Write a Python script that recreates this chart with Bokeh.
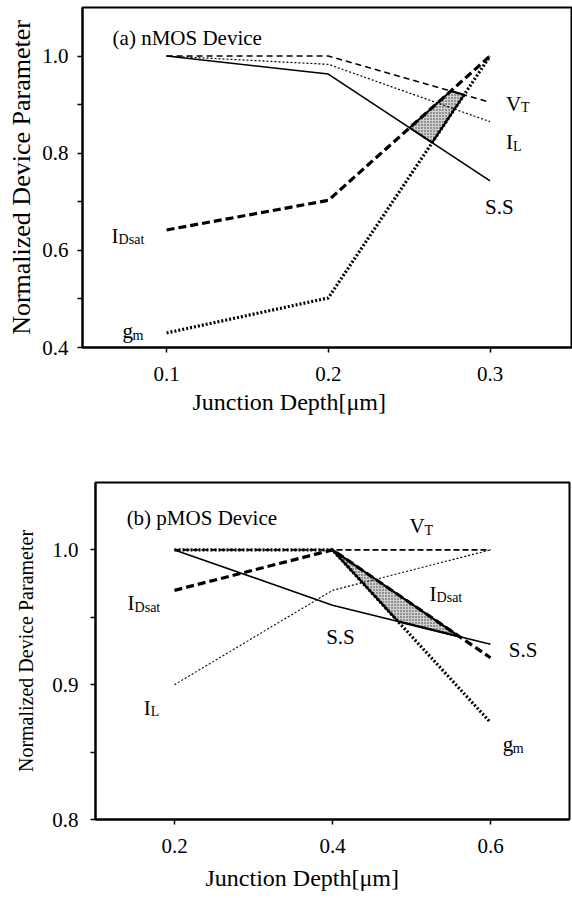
from bokeh.plotting import figure
from bokeh.models import Label, FixedTicker, Range1d, PrintfTickFormatter, Title, Spacer
from bokeh.layouts import column, row
from bokeh.embed import file_html
from bokeh.resources import INLINE

FONT = "Liberation Serif"

# ---------------- data: panel (a) nMOS ----------------
x_a = [0.1, 0.2, 0.3]
vt_a = [1.0, 1.0, 0.905]
il_a = [1.0, 0.983, 0.865]
ss_a = [1.0, 0.963, 0.743]
idsat_a = [0.642, 0.703, 1.0]
gm_a = [0.430, 0.502, 1.0]

xticks_a = [0.1, 0.2, 0.3]
yticks_a = [0.4, 0.6, 0.8, 1.0]
yminor_a = [0.5, 0.7, 0.9]

# ---------------- data: panel (b) pMOS ----------------
x_b = [0.2, 0.4, 0.6]
vt_b = [1.0, 1.0, 1.0]
il_b = [0.90, 0.97, 1.0]
ss_b = [1.0, 0.959, 0.930]
idsat_b = [0.97, 1.0, 0.92]
gm_b = [1.0, 1.0, 0.872]

xticks_b = [0.2, 0.4, 0.6]
yticks_b = [0.8, 0.9, 1.0]
yminor_b = [0.85, 0.95]

XLABEL = "Junction Depth[μm]"
YLABEL = "Normalized Device Parameter"


def cross(xs, ya, yb, i):
    """Intersection of segment i of two series sharing the same x values."""
    da = ya[i + 1] - ya[i]
    db = yb[i + 1] - yb[i]
    t = (yb[i] - ya[i]) / (da - db)
    x = xs[i] + t * (xs[i + 1] - xs[i])
    y = ya[i] + t * da
    return x, y


def make_fig(width, xr, yr, height, borders, ylab_size, ylab_standoff, ytick_size, xtick_size,
             ytick_standoff, xlab_offset, xlab_standoff):
    p = figure(width=width, height=height, x_range=Range1d(*xr), y_range=Range1d(*yr),
               output_backend="svg", toolbar_location=None,
               min_border_left=borders[0], min_border_right=borders[1],
               min_border_top=borders[2], min_border_bottom=borders[3])
    p.grid.visible = False
    p.outline_line_color = "black"
    p.outline_line_width = 2
    p.background_fill_color = "white"
    p.border_fill_color = "white"
    for ax in (p.xaxis[0], p.yaxis[0]):
        ax.axis_line_color = "black"
        ax.axis_line_width = 2
        ax.major_tick_in = 0
        ax.major_tick_out = 5
        ax.minor_tick_in = 0
        ax.minor_tick_out = 5
        ax.major_tick_line_width = 1.5
        ax.minor_tick_line_width = 1.5
        ax.major_label_text_font = FONT
        ax.major_label_text_color = "black"
        ax.formatter = PrintfTickFormatter(format="%.1f")
    p.yaxis.major_label_text_font_size = ytick_size
    p.xaxis.major_label_text_font_size = xtick_size
    p.yaxis.major_label_standoff = ytick_standoff
    p.xaxis.major_label_standoff = 14
    p.yaxis.axis_label = YLABEL
    p.yaxis.axis_label_text_font = FONT
    p.yaxis.axis_label_text_font_size = ylab_size
    p.yaxis.axis_label_text_font_style = "normal"
    p.yaxis.axis_label_text_color = "black"
    p.yaxis.axis_label_standoff = ylab_standoff
    p.add_layout(Title(text=XLABEL, align="left", offset=xlab_offset, standoff=xlab_standoff,
                       text_font=FONT, text_font_size="24px", text_font_style="normal",
                       text_color="black"), "below")
    return p


def lab(p, x, y, text, size="21px", sub=None, sub_dx=0, sub_size="14px", align="left"):
    p.add_layout(Label(x=x, y=y, text=text, text_font=FONT, text_font_size=size,
                       text_align=align, text_baseline="alphabetic", text_color="black"))
    if sub:
        p.add_layout(Label(x=x, y=y, text=sub, x_offset=sub_dx, y_offset=-4,
                           text_font=FONT, text_font_size=sub_size,
                           text_align="left", text_baseline="alphabetic", text_color="black"))


# ================= panel (a) =================
pa = make_fig(572, (0.048, 0.351), (0.4, 1.1), 450, (82, 0, 7, 103), "26px", 3, "21px", "21px",
              9, 110, 6)
pa.xaxis.ticker = FixedTicker(ticks=xticks_a)
pa.yaxis.ticker = FixedTicker(ticks=yticks_a, minor_ticks=yminor_a)

poly_a = [cross(x_a, idsat_a, ss_a, 1), cross(x_a, gm_a, ss_a, 1),
          cross(x_a, gm_a, vt_a, 1), cross(x_a, idsat_a, vt_a, 1)]
pa.patch([v[0] for v in poly_a], [v[1] for v in poly_a], fill_color="#d0d0d0",
         hatch_pattern="dot", hatch_color="#333333", hatch_scale=3, hatch_weight=1,
         line_color="black", line_width=2)

pa.line(x_a, vt_a, line_color="black", line_width=1.6, line_dash="6 4")
pa.line(x_a, il_a, line_color="black", line_width=1.2, line_dash="2 2")
pa.line(x_a, ss_a, line_color="black", line_width=1.6)
pa.line(x_a, idsat_a, line_color="black", line_width=3.2, line_dash="8 4")
pa.line(x_a, gm_a, line_color="black", line_width=3.2, line_dash="2 2")

lab(pa, 0.0666, 1.037, "(a) nMOS Device", size="21px")
lab(pa, 0.3099, 0.902, "V", sub="T", sub_dx=15)
lab(pa, 0.3099, 0.823, "I", sub="L", sub_dx=7)
lab(pa, 0.2969, 0.690, "S.S")
lab(pa, 0.066, 0.630, "I", sub="Dsat", sub_dx=7)
lab(pa, 0.0728, 0.433, "g", sub="m", sub_dx=10)

# ================= panel (b) =================
pb = make_fig(560, (0.1, 0.7), (0.8, 1.05), 448, (82, 3, 32, 77), "20px", 12, "21px", "21px",
              12, 110, 15)
pb.xaxis.ticker = FixedTicker(ticks=xticks_b)
pb.yaxis.ticker = FixedTicker(ticks=yticks_b, minor_ticks=yminor_b)

poly_b = [(x_b[1], gm_b[1]), cross(x_b, idsat_b, ss_b, 1), cross(x_b, gm_b, ss_b, 1)]
pb.patch([v[0] for v in poly_b], [v[1] for v in poly_b], fill_color="#d0d0d0",
         hatch_pattern="dot", hatch_color="#333333", hatch_scale=3, hatch_weight=1,
         line_color="black", line_width=2.2)

pb.line(x_b, vt_b, line_color="black", line_width=1.8, line_dash="6 3")
pb.line(x_b, il_b, line_color="black", line_width=1.1, line_dash="2 2")
pb.line(x_b, ss_b, line_color="black", line_width=1.6)
pb.line(x_b, idsat_b, line_color="black", line_width=3.2, line_dash="8 4")
pb.line(x_b, gm_b, line_color="black", line_width=3.2, line_dash="2 2")

lab(pb, 0.1394, 1.0235, "(b) pMOS Device", size="21px")
lab(pb, 0.4975, 1.0175, "V", sub="T", sub_dx=15)
lab(pb, 0.5229, 0.9676, "I", sub="Dsat", sub_dx=7)
lab(pb, 0.6232, 0.9257, "S.S")
lab(pb, 0.392, 0.9353, "S.S")
lab(pb, 0.1406, 0.9603, "I", sub="Dsat", sub_dx=7)
lab(pb, 0.161, 0.883, "I", sub="L", sub_dx=7)
lab(pb, 0.6156, 0.856, "g", sub="m", sub_dx=10)

layout = column(pa, row(Spacer(width=12, height=448), pb, spacing=0), spacing=0)
open("out.html", "w").write(file_html(layout, INLINE))
